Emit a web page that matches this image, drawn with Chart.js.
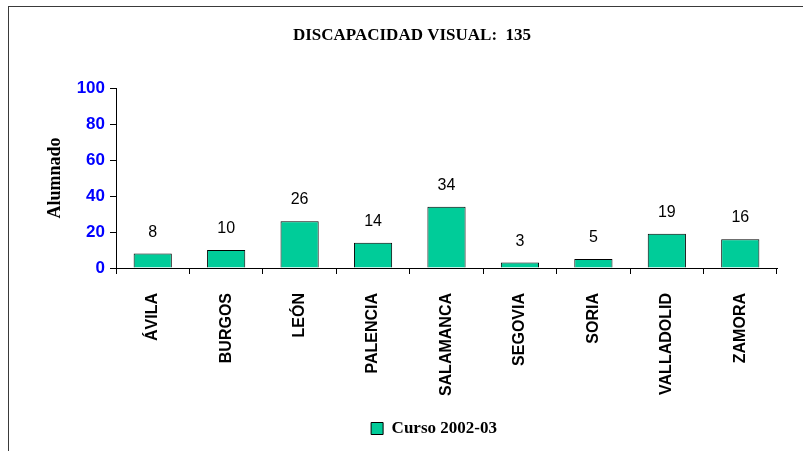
<!DOCTYPE html>
<html>
<head>
<meta charset="utf-8">
<script src="https://cdn.jsdelivr.net/npm/chart.js@4.4.0/dist/chart.umd.min.js"></script>
<style>
  html, body { margin: 0; padding: 0; background: #fff; overflow: hidden; width: 803px; height: 451px; }
  #wrap { position: relative; width: 803px; height: 451px; }
  #frame { position: absolute; left: 8px; top: 6px; width: 900px; height: 600px; border: 1.5px solid #3a3a3a; box-sizing: border-box; pointer-events: none; }
  canvas { position: absolute; left: 0; top: 0; }
</style>
</head>
<body>
<div id="wrap">
  <canvas id="c" width="803" height="451"></canvas>
  <div id="frame"></div>
</div>
<script>
// ---- data ----
const categories = ['ÁVILA', 'BURGOS', 'LEÓN', 'PALENCIA', 'SALAMANCA', 'SEGOVIA', 'SORIA', 'VALLADOLID', 'ZAMORA'];
const values = [8, 10, 26, 14, 34, 3, 5, 19, 16];
const seriesLabel = 'Curso 2002-03';
const chartTitle = 'DISCAPACIDAD VISUAL:  135';
const yAxisTitle = 'Alumnado';
const yMin = 0, yMax = 100, yStep = 20;

const SERIF = '"Liberation Serif", "Times New Roman", serif';
const SANS = '"Liberation Sans", Arial, sans-serif';

const valueLabels = {
  id: 'valueLabels',
  afterDatasetsDraw(chart) {
    const ctx = chart.ctx;
    const meta = chart.getDatasetMeta(0);
    ctx.save();
    ctx.font = '16px ' + SANS;
    ctx.fillStyle = '#000';
    ctx.textAlign = 'center';
    ctx.textBaseline = 'alphabetic';
    meta.data.forEach((bar, i) => {
      ctx.fillText(String(chart.data.datasets[0].data[i]), bar.x, bar.y - 17);
    });
    ctx.restore();
  }
};

const shiftBlocks = {
  id: 'shiftBlocks',
  afterLayout(chart) {
    const t = chart.titleBlock;
    if (t) {
      const d = 412 - (t.left + t.right) / 2;
      t.left += d; t.right += d;
    }
    const l = chart.legend;
    if (l) {
      const d = 434 - (l.left + l.right) / 2;
      l.left += d; l.right += d;
    }
  }
};

new Chart(document.getElementById('c'), {
  type: 'bar',
  data: {
    labels: categories,
    datasets: [{
      label: seriesLabel,
      data: values,
      backgroundColor: '#00CC99',
      borderColor: '#000',
      borderWidth: 1,
      barPercentage: 0.52,
      categoryPercentage: 1.0
    }]
  },
  options: {
    responsive: false,
    animation: false,
    devicePixelRatio: 1,
    layout: { padding: { left: 0, right: 26, top: 0, bottom: 4 } },
    plugins: {
      title: {
        display: true,
        text: chartTitle,
        color: '#000',
        font: { family: SERIF, size: 17, weight: 'bold' },
        padding: { top: 25, bottom: 42.6 }
      },
      legend: {
        display: true,
        position: 'bottom',
        labels: {
          boxWidth: 12,
          boxHeight: 12,
          padding: 10,
          color: '#000',
          font: { family: SERIF, size: 17, weight: 'bold' }
        }
      },
      tooltip: { enabled: false }
    },
    scales: {
      x: {
        grid: { display: true, drawOnChartArea: false, offset: true, drawTicks: true, tickLength: 6, color: '#000' },
        border: { display: true, color: '#000', width: 1 },
        ticks: {
          autoSkip: false, maxRotation: 90, minRotation: 90, padding: 19,
          color: '#000', font: { family: SANS, size: 16, weight: 'bold' }
        },
        afterFit(scale) { scale.height = 183 - scale.chart.legend.height - 4; }
      },
      y: {
        min: yMin, max: yMax,
        grid: { display: true, drawOnChartArea: false, drawTicks: true, tickLength: 6, color: '#000' },
        border: { display: true, color: '#000', width: 1 },
        ticks: {
          stepSize: yStep, padding: 5,
          color: '#0000FF', font: { family: SANS, size: 17, weight: 'bold' }
        },
        title: {
          display: true, text: yAxisTitle, color: '#000',
          font: { family: SERIF, size: 18, weight: 'bold' },
          padding: { top: 44.5, bottom: 0 }
        },
        afterFit(scale) { scale.width = 116; }
      }
    }
  },
  plugins: [valueLabels, shiftBlocks]
});
</script>
</body>
</html>
